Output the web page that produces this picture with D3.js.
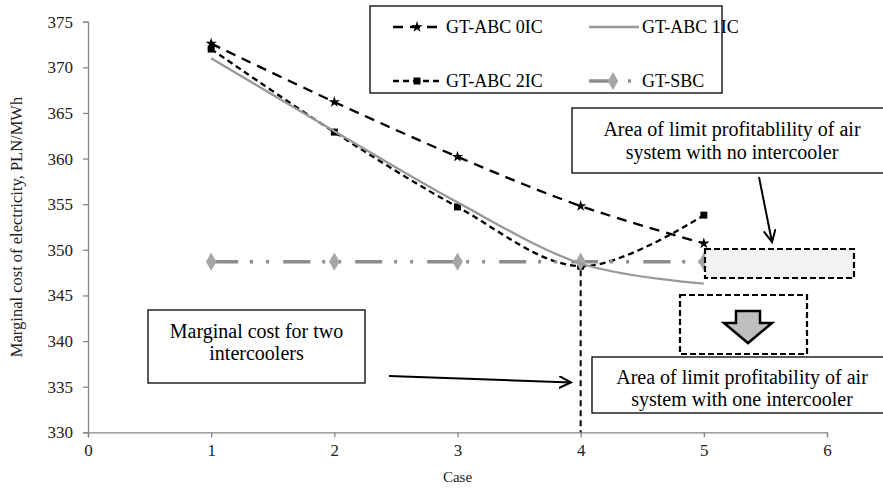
<!DOCTYPE html>
<html><head><meta charset="utf-8">
<script src="https://cdn.jsdelivr.net/npm/d3@7"></script>
<style>body{margin:0;background:#fff} svg{display:block}</style>
</head><body><svg id="c" width="883" height="490"></svg>
<script>
const cases = [1, 2, 3, 4, 5];
const gtAbc0IC = [372.6, 366.2, 360.2, 354.8, 350.7];
const gtAbc1IC = [371.0, 363.0, 355.2, 348.5, 346.3];
const gtAbc2IC = [372.0, 362.9, 354.7, 348.2, 353.8];
const gtSbc = [348.7, 348.7, 348.7, 348.7, 348.7];
const xTicks = [0, 1, 2, 3, 4, 5, 6];
const yTicks = [330, 335, 340, 345, 350, 355, 360, 365, 370, 375];
const seriesNames = ["GT-ABC 0IC", "GT-ABC 1IC", "GT-ABC 2IC", "GT-SBC"];
const xTitle = "Case";
const yTitle = "Marginal cost of electricity, PLN/MWh";
const noteTwo = ["Marginal cost for two", "intercoolers"];
const noteNone = ["Area of limit profitablility of air", "system with no intercooler"];
const noteOne = ["Area of limit profitability of air", "system with one intercooler"];

const svg = d3.select("#c");
const serif = "'Liberation Serif','Times New Roman',serif";
const x = d3.scaleLinear().domain([0, 6]).range([88, 827]);
const y = d3.scaleLinear().domain([330, 375]).range([432.3, 21.7]);

// defs: arrow marker
const defs = svg.append("defs");
defs.append("marker").attr("id", "arr").attr("markerUnits", "userSpaceOnUse")
  .attr("markerWidth", 16).attr("markerHeight", 16).attr("refX", 12).attr("refY", 6)
  .attr("orient", "auto")
  .append("path").attr("d", "M0,0 L12,6 L0,12").attr("fill", "none")
  .attr("stroke", "#000").attr("stroke-width", 2);

// axes
const axisColor = "#868686";
const gx = svg.append("g").attr("transform", `translate(0,${y(330)})`)
  .call(d3.axisBottom(x).tickValues(xTicks).tickFormat(d3.format("d")).tickSize(5).tickPadding(7));
const gy = svg.append("g").attr("transform", `translate(${x(0)},0)`)
  .call(d3.axisLeft(y).tickValues(yTicks).tickFormat(d3.format("d")).tickSize(5).tickPadding(10));
[gx, gy].forEach(g => {
  g.select(".domain").attr("stroke", axisColor).attr("stroke-width", 1.3);
  g.selectAll(".tick line").attr("stroke", axisColor).attr("stroke-width", 1.3);
  g.selectAll(".tick text").attr("font-family", serif).attr("font-size", 17).attr("fill", "#222");
});

svg.append("text").attr("x", (x(0) + x(6)) / 2).attr("y", 482).attr("text-anchor", "middle")
  .attr("font-family", serif).attr("font-size", 15).attr("fill", "#222").text(xTitle);
svg.append("text").attr("transform", `translate(22,${(y(330) + y(375)) / 2}) rotate(-90)`)
  .attr("text-anchor", "middle").attr("font-family", serif).attr("font-size", 16.5)
  .attr("fill", "#222").text(yTitle);

const line = d3.line().x(d => x(d[0])).y(d => y(d[1])).curve(d3.curveCardinal.tension(0));
const pts = vals => cases.map((c, i) => [c, vals[i]]);

const styles = {
  "GT-ABC 0IC": { stroke: "#000", width: 2.3, dash: "10,7", symbol: d3.symbolStar, size: 40, fill: "#000" },
  "GT-ABC 1IC": { stroke: "#999", width: 2.3, dash: null, symbol: null },
  "GT-ABC 2IC": { stroke: "#000", width: 2.3, dash: "6,4", symbol: d3.symbolSquare, size: 49, fill: "#000" },
  "GT-SBC": { stroke: "#8c8c8c", width: 3.5, dash: "27,12,3,13,3,14", symbol: d3.symbolDiamond, size: 95, fill: "#a6a6a6" }
};
const seriesVals = {
  "GT-ABC 0IC": gtAbc0IC, "GT-ABC 1IC": gtAbc1IC, "GT-ABC 2IC": gtAbc2IC, "GT-SBC": gtSbc
};
const drawOrder = ["GT-ABC 0IC", "GT-ABC 2IC", "GT-SBC", "GT-ABC 1IC"];
drawOrder.forEach(name => {
  const s = styles[name];
  const p = pts(seriesVals[name]);
  svg.append("path").attr("d", line(p)).attr("fill", "none").attr("stroke", s.stroke)
    .attr("stroke-width", s.width).attr("stroke-dasharray", s.dash);
  if (s.symbol) {
    svg.selectAll(null).data(p).enter().append("path")
      .attr("transform", d => `translate(${x(d[0])},${y(d[1])})`)
      .attr("d", d3.symbol().type(s.symbol).size(s.size)).attr("fill", s.fill);
  }
});

// vertical dashed line at case 4
svg.append("line").attr("x1", x(4)).attr("x2", x(4)).attr("y1", y(gtAbc2IC[3]) + 4).attr("y2", y(330))
  .attr("stroke", "#000").attr("stroke-width", 2).attr("stroke-dasharray", "6,4");

// legend
const lg = svg.append("g");
lg.append("rect").attr("x", 370).attr("y", 6).attr("width", 352).attr("height", 87)
  .attr("fill", "#fff").attr("stroke", "#000").attr("stroke-width", 1.3);
const legPos = [[393, 27], [589, 27], [393, 81], [589, 81]];
seriesNames.forEach((name, i) => {
  const s = styles[name];
  const [lx, ly] = legPos[i];
  lg.append("line").attr("x1", lx).attr("x2", lx + 50).attr("y1", ly).attr("y2", ly)
    .attr("stroke", s.stroke).attr("stroke-width", s.width).attr("stroke-dasharray", s.dash);
  if (s.symbol) {
    lg.append("path").attr("transform", `translate(${lx + 24},${ly})`)
      .attr("d", d3.symbol().type(s.symbol).size(s.size)).attr("fill", s.fill);
  }
  lg.append("text").attr("x", lx + 53).attr("y", ly).attr("dy", "0.35em")
    .attr("font-family", serif).attr("font-size", 18).attr("fill", "#000").text(name);
});

// annotation boxes
function noteBox(bx, by, bw, bh, lines, ly) {
  svg.append("rect").attr("x", bx).attr("y", by).attr("width", bw).attr("height", bh)
    .attr("fill", "#fff").attr("stroke", "#000").attr("stroke-width", 1.3);
  lines.forEach((t, i) => svg.append("text").attr("x", bx + bw / 2).attr("y", ly[i])
    .attr("dy", "0.35em").attr("text-anchor", "middle").attr("font-family", serif)
    .attr("font-size", 20).attr("fill", "#000").text(t));
}
noteBox(148, 310, 217, 73, noteTwo, [331, 353]);
noteBox(572, 108, 320, 65, noteNone, [129, 152]);
noteBox(592, 357, 300, 56, noteOne, [377, 399]);

// arrows
svg.append("line").attr("x1", 389).attr("y1", 376).attr("x2", 571).attr("y2", 382.5)
  .attr("stroke", "#000").attr("stroke-width", 2).attr("marker-end", "url(#arr)");
svg.append("line").attr("x1", 759).attr("y1", 177).attr("x2", 772).attr("y2", 242)
  .attr("stroke", "#000").attr("stroke-width", 2).attr("marker-end", "url(#arr)");

// dashed area boxes
svg.append("rect").attr("x", 705).attr("y", 249).attr("width", 149).attr("height", 29)
  .attr("fill", "#f2f2f2").attr("stroke", "#000").attr("stroke-width", 2.2).attr("stroke-dasharray", "6,3");
svg.append("rect").attr("x", 680).attr("y", 295).attr("width", 127).attr("height", 59)
  .attr("fill", "none").attr("stroke", "#000").attr("stroke-width", 2.2).attr("stroke-dasharray", "6,3");
// block down arrow
svg.append("path")
  .attr("d", "M736,311 L760,311 L760,323 L772,323 L748,343 L724,323 L736,323 Z")
  .attr("fill", "#bfbfbf").attr("stroke", "#000").attr("stroke-width", 2.5).attr("stroke-linejoin", "miter");
</script></body></html>
